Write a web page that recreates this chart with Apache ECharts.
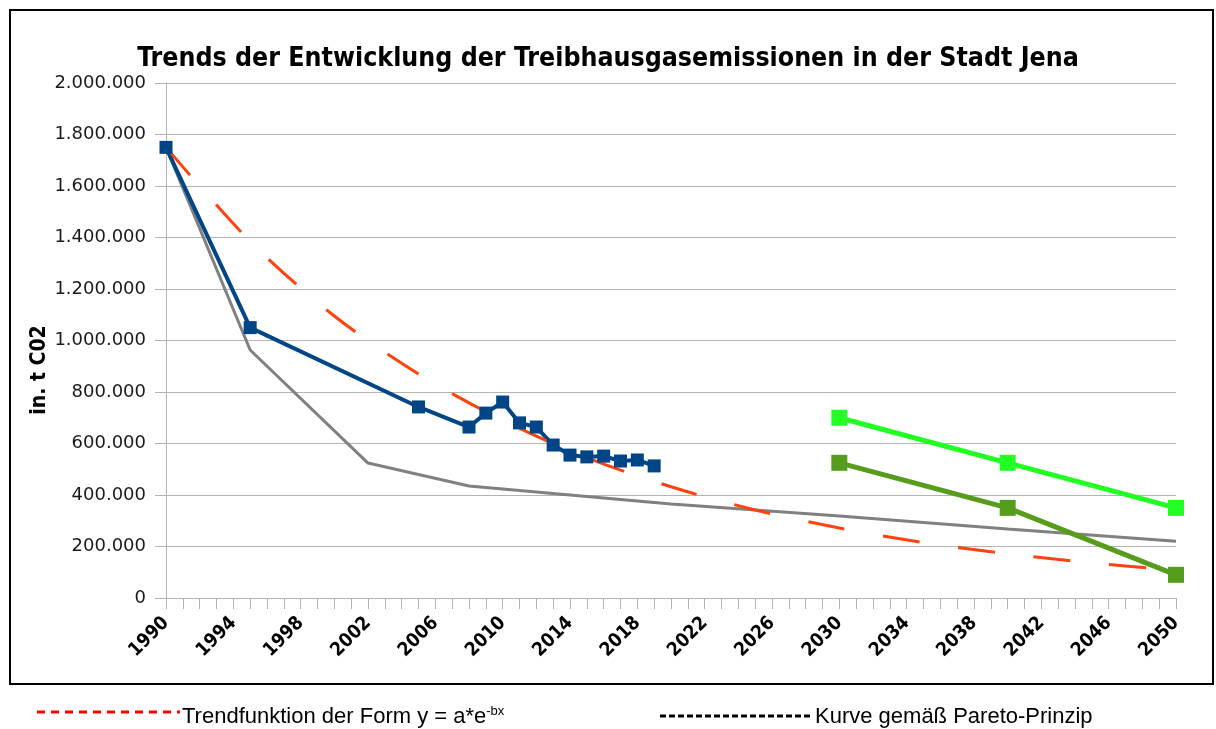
<!DOCTYPE html>
<html>
<head>
<meta charset="utf-8">
<script src="https://cdn.jsdelivr.net/npm/echarts@6/dist/echarts.min.js"></script>
<style>
  html, body { margin: 0; padding: 0; background: #fff; }
  #chart { width: 1216px; height: 729px; }
</style>
</head>
<body>
<div id="chart"></div>
<script>
// x-Achse: Jahre 1990 - 2050
const years = []
for (let y = 1990; y <= 2050; y++) years.push(String(y))

// Ist-Werte
const istYears = [1990, 1995, 2005, 2008, 2009, 2010, 2011, 2012, 2013, 2014, 2015, 2016, 2017, 2018, 2019]
const istValues = [1750000, 1050000, 742000, 664000, 718000, 761000, 680000, 664000, 594000, 555000, 548000, 551000, 532000, 536000, 513000]

// Kurve gemaess Pareto-Prinzip
const paretoYears = [1990, 1995, 2002, 2008, 2014, 2020, 2030, 2040, 2050]
const paretoValues = [1750000, 963000, 524000, 435000, 400000, 365000, 318000, 268000, 220000]

// Trendfunktion y = a*e^-bx
const trendYears = [1990, 1995, 2000, 2005, 2010, 2015, 2020, 2025, 2030, 2035, 2040, 2045, 2050]
const trendValues = [1750000, 1385000, 1095000, 870000, 690000, 545000, 432000, 342000, 272000, 215000, 172000, 136000, 108000]

// Zielpfade
const zielYears = [2030, 2040, 2050]
const zielHellValues = [700000, 525000, 350000]
const zielDunkelValues = [525000, 350000, 90000]

const yTicks = [0, 200000, 400000, 600000, 800000, 1000000, 1200000, 1400000, 1600000, 1800000, 2000000]

function pairs(ys, vs) {
  return ys.map((y, i) => [years.indexOf(String(y)), vs[i]])
}
function fmt(v) {
  return String(v).replace(/\B(?=(\d{3})+(?!\d))/g, '.')
}

const chart = echarts.init(document.getElementById('chart'))
chart.setOption({
  animation: false,
  title: {
    text: 'Trends der Entwicklung der Treibhausgasemissionen in der Stadt Jena',
    left: 'center',
    top: 41,
    textStyle: {
      fontFamily: "'DejaVu Sans Condensed', 'Liberation Sans'",
      fontSize: 26.5,
      fontWeight: 'bold',
      color: '#000'
    }
  },
  grid: {
    left: 166,
    right: 40,
    top: 83,
    bottom: 131
  },
  xAxis: {
    type: 'category',
    data: years,
    boundaryGap: false,
    axisLine: { lineStyle: { color: '#b3b3b3', width: 1 } },
    axisTick: { interval: 0, length: 11, lineStyle: { color: '#b3b3b3' } },
    axisLabel: {
      interval: 3,
      rotate: 45,
      margin: 22,
      fontFamily: "'DejaVu Sans Condensed', 'Liberation Sans'",
      fontWeight: 'bold',
      fontSize: 19,
      color: '#000'
    },
    splitLine: { show: false }
  },
  yAxis: {
    type: 'value',
    min: yTicks[0],
    max: yTicks[yTicks.length - 1],
    interval: 200000,
    axisLine: { show: true, lineStyle: { color: '#b3b3b3' } },
    axisTick: { show: true, length: 11, lineStyle: { color: '#b3b3b3' } },
    axisLabel: {
      margin: 20,
      formatter: fmt,
      fontFamily: 'DejaVu Sans',
      fontSize: 18,
      color: '#1a1a1a'
    },
    splitLine: { lineStyle: { color: '#b3b3b3', width: 1 } }
  },
  graphic: [
    {
      type: 'rect',
      shape: { x: 10, y: 10, width: 1203, height: 674 },
      style: { fill: 'none', stroke: '#000', lineWidth: 2 },
      silent: true
    },
    {
      type: 'text',
      x: 40,
      y: 370,
      rotation: Math.PI / 2,
      style: {
        text: 'in. t C02',
        fill: '#000',
        fontFamily: "'DejaVu Sans Condensed', 'Liberation Sans'",
        fontWeight: 'bold',
        fontSize: 21,
        align: 'center',
        verticalAlign: 'middle'
      }
    },
    {
      type: 'line',
      shape: { x1: 37, y1: 712, x2: 180, y2: 712 },
      style: { stroke: '#ff0000', lineWidth: 3, lineDash: [8, 6] }
    },
    {
      type: 'text',
      x: 182,
      y: 717,
      style: {
        text: '{a|Trendfunktion der Form y = a*e}{s|-bx}',
        fill: '#000',
        verticalAlign: 'middle',
        rich: {
          a: { fontFamily: 'Liberation Sans', fontSize: 22, color: '#000' },
          s: { fontFamily: 'Liberation Sans', fontSize: 13, color: '#000', verticalAlign: 'top', padding: [0, 0, 12, 0] }
        }
      }
    },
    {
      type: 'line',
      shape: { x1: 660, y1: 716, x2: 811, y2: 716 },
      style: { stroke: '#000', lineWidth: 3, lineDash: [6, 3] }
    },
    {
      type: 'text',
      x: 815,
      y: 717,
      style: {
        text: 'Kurve gemäß Pareto-Prinzip',
        fill: '#000',
        fontFamily: 'Liberation Sans',
        fontSize: 22,
        verticalAlign: 'middle'
      }
    }
  ],
  series: [
    {
      name: 'Pareto',
      type: 'line',
      data: pairs(paretoYears, paretoValues),
      showSymbol: false,
      lineStyle: { color: '#808080', width: 3 },
      itemStyle: { color: '#808080' }
    },
    {
      name: 'Ist',
      type: 'line',
      data: pairs(istYears, istValues),
      symbol: 'rect',
      symbolSize: 13,
      showAllSymbol: true,
      lineStyle: { color: '#004586', width: 4 },
      itemStyle: { color: '#004586' }
    },
    {
      name: 'Trend',
      type: 'line',
      data: pairs(trendYears, trendValues),
      smooth: 0.3,
      showSymbol: false,
      lineStyle: { color: '#ff420e', width: 3, type: [37, 39] },
      itemStyle: { color: '#ff420e' }
    },
    {
      name: 'Ziel hell',
      type: 'line',
      data: pairs(zielYears, zielHellValues),
      symbol: 'rect',
      symbolSize: 16,
      showAllSymbol: true,
      lineStyle: { color: '#22ff22', width: 5 },
      itemStyle: { color: '#22ff22' }
    },
    {
      name: 'Ziel dunkel',
      type: 'line',
      data: pairs(zielYears, zielDunkelValues),
      symbol: 'rect',
      symbolSize: 16,
      showAllSymbol: true,
      lineStyle: { color: '#579d1c', width: 5 },
      itemStyle: { color: '#579d1c' }
    }
  ]
})
</script>
</body>
</html>
